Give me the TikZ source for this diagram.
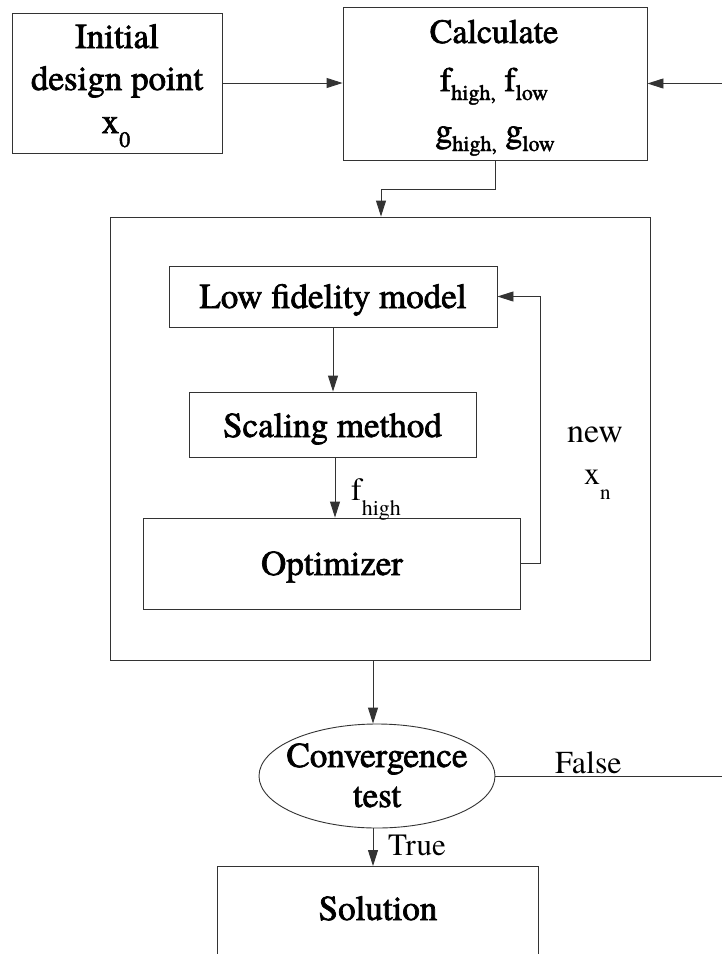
\documentclass[tikz,border=0pt]{standalone}
\usepackage{fontspec}
\setmainfont{texgyretermes-regular.otf}
\newfontfamily\heavyfont{texgyretermes-regular.otf}[FakeBold=2]
\usetikzlibrary{arrows.meta,shapes.geometric}
\newcommand\lowsub[2]{\raisebox{-#1}{\fontsize{22}{22}\selectfont #2}}
\begin{document}
\begin{tikzpicture}[x=1pt,y=-1pt,
  ln/.style={draw=black!80, line width=0.9pt},
  box/.style={ln, rectangle, inner sep=0pt},
  arr/.style={ln, -{Triangle[length=16pt,width=10pt]}},
  heavy/.style={inner sep=0pt, anchor=base, font=\heavyfont\fontsize{35}{40}\selectfont},
  calcfont/.style={inner sep=0pt, anchor=base, font=\heavyfont\fontsize{34}{38}\selectfont},
  thin/.style={inner sep=0pt, anchor=base west, font=\fontsize{32}{36}\selectfont}]
\useasboundingbox (0,0) rectangle (722,954);
\clip (0,0) rectangle (722,954);
\fill[white] (0,0) rectangle (722,954);

% boxes
\node[box, minimum width=210pt, minimum height=140pt] (init) at (117,83) {};
\node[box, minimum width=304pt, minimum height=153pt] (calc) at (495,83.5) {};
\node[box, minimum width=540pt, minimum height=443pt] (outer) at (380,438.5) {};
\node[box, minimum width=328pt, minimum height=61pt] (lfm) at (333,296.5) {};
\node[box, minimum width=287pt, minimum height=65pt] (scal) at (332.5,424.5) {};
\node[box, minimum width=377pt, minimum height=91pt] (opt) at (331.5,563.5) {};
\node[ln, ellipse, inner sep=0pt, minimum width=236pt, minimum height=104pt] (conv) at (377,776) {};
\node[box, minimum width=321pt, minimum height=140pt, anchor=north] (sol) at (377.5,866) {};

% texts
\node[heavy] (tinit1) at (117,48) {Initial};
\node[heavy] (tinit2) at (117,90) {design point};
\node[heavy] (tinit3) at (116,133) {x\lowsub{14pt}{0}};
\node[calcfont] (tcalc1) at (494,43) {Calculate};
\node[calcfont] (tcalc2) at (494,91) {f\lowsub{9pt}{high,} f\lowsub{9pt}{low}};
\node[calcfont] (tcalc3) at (495,142) {g\lowsub{9pt}{high,} g\lowsub{9pt}{low}};
\node[heavy] (tlfm) at (333,308) {Low fidelity model};
\node[heavy] (tscal) at (332.5,437) {Scaling method};
\node[heavy] (topt) at (332,575) {Optimizer};
\node[heavy] (tconv1) at (377,767) {Convergence};
\node[heavy] (tconv2) at (377,807) {test};
\node[heavy] (tsol) at (378,920) {Solution};
\node[thin] (tfh) at (351,500) {f\raisebox{-15pt}{\fontsize{22}{22}\selectfont high}};
\node[thin, anchor=base, font=\fontsize{34}{36}\selectfont] (tnew) at (595,442) {new};
\node[thin] (txn) at (584,484) {x\raisebox{-15pt}{\fontsize{21}{21}\selectfont n}};
\node[thin] (tfalse) at (555,773) {False};
\node[thin, font=\fontsize{31}{34}\selectfont] (ttrue) at (388,855) {True};

% connectors
\draw[arr] (init.east) -- (init.east -| calc.west);
\coordinate (c1) at (381,189);
\draw[arr] (calc.south) |- (c1) -- (c1 |- outer.north);
\draw[arr] (lfm.south) -- (lfm.south |- scal.north);
\draw[arr] ([xshift=2.5pt]scal.south) -- ([xshift=2.5pt]scal.south |- opt.north);
\coordinate (lp) at (540,563.5);
\draw[arr] (opt.east) -- (lp) |- (lfm.east);
\draw[arr] ([xshift=-7pt]outer.south) -- ([xshift=-4pt]conv.north);
\coordinate (fr) at (760,776);
\draw[arr] (conv.east) -- (fr) |- (calc.east);
\draw[arr] ([xshift=-4pt]conv.south) -- ([xshift=-4.5pt]sol.north);
\end{tikzpicture}
\end{document}
